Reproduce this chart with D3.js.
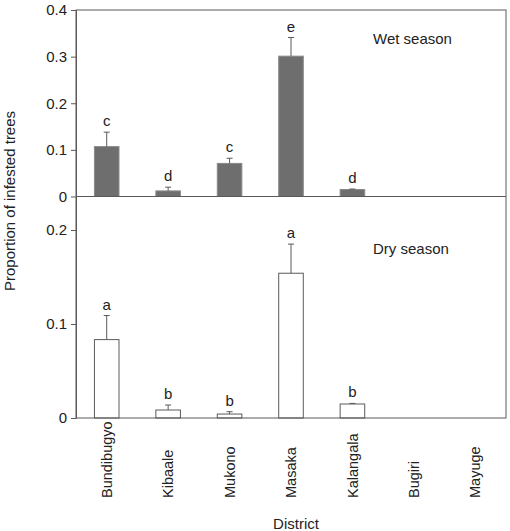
<!DOCTYPE html>
<html>
<head>
<meta charset="utf-8">
<script src="https://cdn.jsdelivr.net/npm/d3@7"></script>
<style>
  html, body { margin: 0; padding: 0; background: #fff; }
  svg { display: block; font-family: "Liberation Sans", Arial, sans-serif; }
</style>
</head>
<body>
<svg id="chart" width="510" height="531"></svg>
<script>
const districts = ["Bundibugyo", "Kibaale", "Mukono", "Masaka", "Kalangala", "Bugiri", "Mayuge"];
const wetMean = [0.107, 0.012, 0.071, 0.301, 0.015, null, null];
const wetSE   = [0.031, 0.008, 0.011, 0.040, 0.001, null, null];
const wetLetters = ["c", "d", "c", "e", "d", "", ""];
const dryMean = [0.0834, 0.0085, 0.0042, 0.154, 0.0149, null, null];
const drySE   = [0.0256, 0.0053, 0.0025, 0.031, 0.0006, null, null];
const dryLetters = ["a", "b", "b", "a", "b", "", ""];
const wetTicks = [0, 0.1, 0.2, 0.3, 0.4];
const dryTicks = [0, 0.1, 0.2];

const svg = d3.select("#chart");
const left = 76, right = 506;
const topY = 10, midY = 196.5, botY = 418;
const lineCol = "#5a5a5a";
const textCol = "#222";

const x = d3.scaleBand().domain(districts).range([left, right]).paddingInner(0.6).paddingOuter(0.3);

const yWet = d3.scaleLinear().domain([0, 0.4]).range([midY, topY]);
const dryMax = 0.2 * (botY - midY) / (botY - 230);
const yDry = d3.scaleLinear().domain([0, dryMax]).range([botY, midY]);

function panel(y, means, ses, letters, ticks, fill, stroke, title, titleY) {
  const g = svg.append("g");
  const data = districts.map((d, i) => ({d, m: means[i], s: ses[i], l: letters[i]})).filter(o => o.m != null);
  // bars
  g.selectAll("rect.bar").data(data).enter().append("rect")
    .attr("x", o => x(o.d)).attr("width", x.bandwidth())
    .attr("y", o => y(o.m)).attr("height", o => y(0) - y(o.m))
    .attr("fill", fill).attr("stroke", stroke).attr("stroke-width", 1);
  // error bars
  const cx = o => x(o.d) + x.bandwidth() / 2;
  g.selectAll("line.err").data(data).enter().append("line")
    .attr("x1", cx).attr("x2", cx)
    .attr("y1", o => y(o.m)).attr("y2", o => y(o.m + o.s))
    .attr("stroke", lineCol).attr("stroke-width", 1);
  g.selectAll("line.cap").data(data).enter().append("line")
    .attr("x1", o => cx(o) - 3).attr("x2", o => cx(o) + 3)
    .attr("y1", o => y(o.m + o.s)).attr("y2", o => y(o.m + o.s))
    .attr("stroke", lineCol).attr("stroke-width", 1);
  // letters
  g.selectAll("text.let").data(data).enter().append("text")
    .attr("x", cx).attr("y", o => y(o.m + o.s) - 6)
    .attr("text-anchor", "middle").attr("font-size", 15).attr("fill", textCol)
    .text(o => o.l);
  // axis
  const ax = svg.append("g").attr("transform", `translate(${left},0)`)
    .call(d3.axisLeft(y).tickValues(ticks).tickFormat(d => d === 0 ? "0" : d3.format(".1f")(d)).tickSize(5).tickSizeOuter(0).tickPadding(4));
  ax.select(".domain").attr("stroke", lineCol);
  ax.selectAll(".tick line").attr("stroke", lineCol);
  ax.selectAll(".tick text").attr("font-size", 15).attr("fill", textCol).attr("font-family", "Liberation Sans, Arial, sans-serif");
  // title
  svg.append("text").attr("x", 373).attr("y", titleY).attr("font-size", 15).attr("fill", textCol).text(title);
}

panel(yWet, wetMean, wetSE, wetLetters, wetTicks, "#6e6e6e", "#8a8a8a", "Wet season", 44);
panel(yDry, dryMean, drySE, dryLetters, dryTicks, "#ffffff", lineCol, "Dry season", 254);

// frames
svg.append("rect").attr("x", left).attr("y", topY).attr("width", right - left).attr("height", botY - topY)
  .attr("fill", "none").attr("stroke", lineCol).attr("stroke-width", 1);
svg.append("line").attr("x1", left).attr("x2", right).attr("y1", midY).attr("y2", midY)
  .attr("stroke", lineCol).attr("stroke-width", 1);

// category labels
svg.selectAll("text.cat").data(districts).enter().append("text")
  .attr("transform", d => `translate(${x(d) + x.bandwidth() / 2},498) rotate(-90)`)
  .attr("dy", "0.35em").attr("font-size", 14.5).attr("fill", textCol)
  .text(d => d);

// axis titles
svg.append("text").attr("x", 296).attr("y", 529).attr("text-anchor", "middle")
  .attr("font-size", 15).attr("fill", textCol).text("District");
svg.append("text").attr("transform", "translate(15,201) rotate(-90)")
  .attr("text-anchor", "middle").attr("font-size", 15).attr("fill", textCol)
  .text("Proportion of infested trees");
</script>
</body>
</html>
